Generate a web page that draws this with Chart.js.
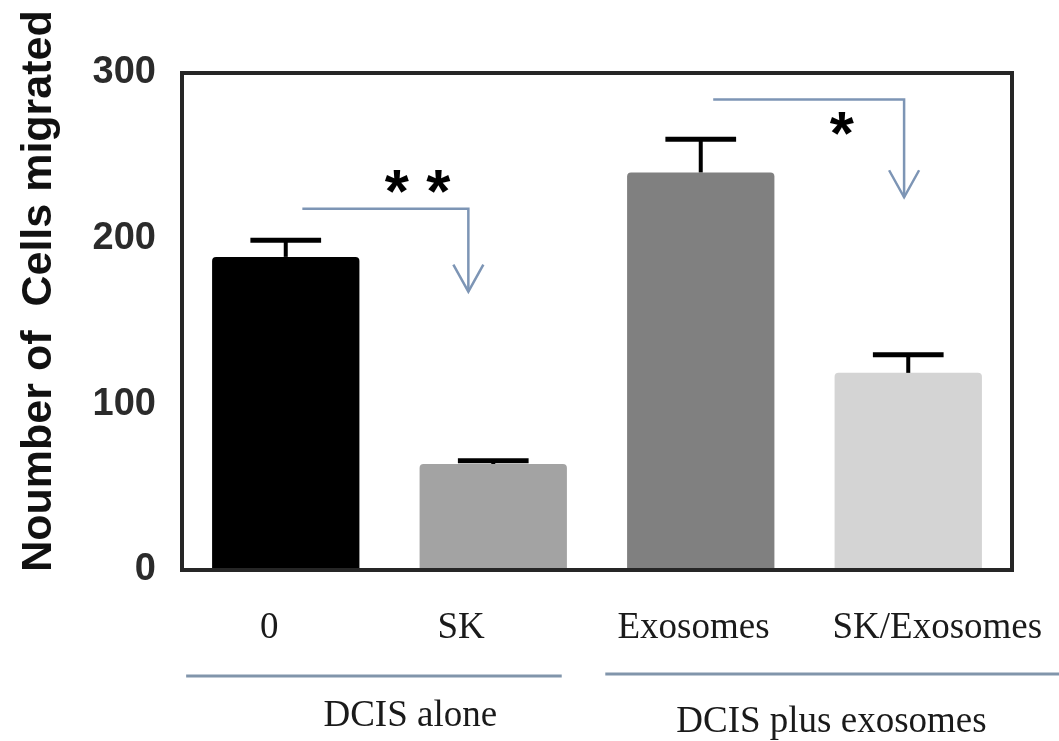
<!DOCTYPE html>
<html>
<head>
<meta charset="utf-8">
<script src="https://cdn.jsdelivr.net/npm/chart.js@4.4.0/dist/chart.umd.min.js"></script>
<style>
  html, body { margin: 0; padding: 0; background: #fff; }
  #wrap { width: 1059px; height: 741px; }
</style>
</head>
<body>
<div id="wrap"><canvas id="migChart" width="1059" height="741"></canvas></div>
<script>
// chart data
const categories = ['0', 'SK', 'Exosomes', 'SK/Exosomes'];
const cellsMigrated = [189, 64, 240, 119];
const errUpper = [10, 2, 20, 11];
const barColors = ['#000000', '#a3a3a3', '#808080', '#d4d4d4'];
const yTickValues = [0, 100, 200, 300];
const groupLabels = ['DCIS alone', 'DCIS plus exosomes'];
const yTitle = 'Noumber of  Cells migrated';

// category labels are not quite centred under the bars in the original
const labelShift = [-0.08, -0.155, -0.035, 0.14];

// significance brackets, in category / value units
const sigFrom = [0.08, 2.06];
const sigTo = [0.88, 2.98];
const sigLevel = [218, 284];
const sigArrowEnd = [168, 225];
const sigStars = ['* *', '*'];
const sigStarX = [0.635, 2.68];
const sigStarY = [234, 269];

const lineBlue = '#7d95b5';

const extrasPlugin = {
    id: 'extras',
    afterDatasetsDraw(chart) {
        const ctx = chart.ctx;
        const xs = chart.scales.x;
        const ys = chart.scales.y;
        const meta = chart.getDatasetMeta(0);

        // error bars (upper only)
        ctx.save();
        ctx.strokeStyle = '#000';
        meta.data.forEach((bar, i) => {
            const top = ys.getPixelForValue(cellsMigrated[i] + errUpper[i]);
            const base = ys.getPixelForValue(cellsMigrated[i]);
            const half = bar.width * 0.24;
            ctx.lineWidth = 4;
            ctx.beginPath();
            ctx.moveTo(bar.x, base);
            ctx.lineTo(bar.x, top);
            ctx.stroke();
            ctx.lineWidth = 5;
            ctx.beginPath();
            ctx.moveTo(bar.x - half, top);
            ctx.lineTo(bar.x + half, top);
            ctx.stroke();
        });
        ctx.restore();

        // significance brackets with arrows
        ctx.save();
        ctx.strokeStyle = lineBlue;
        ctx.lineWidth = 2.5;
        for (let i = 0; i < sigFrom.length; i++) {
            const x0 = xs.getPixelForValue(sigFrom[i]);
            const x1 = xs.getPixelForValue(sigTo[i]);
            const y0 = ys.getPixelForValue(sigLevel[i]);
            const y1 = ys.getPixelForValue(sigArrowEnd[i]);
            ctx.beginPath();
            ctx.moveTo(x0, y0);
            ctx.lineTo(x1, y0);
            ctx.lineTo(x1, y1);
            ctx.stroke();
            ctx.beginPath();
            ctx.moveTo(x1 - 15, y1 - 27);
            ctx.lineTo(x1, y1);
            ctx.lineTo(x1 + 15, y1 - 27);
            ctx.stroke();

            ctx.fillStyle = '#000';
            ctx.font = 'bold 62px "Liberation Sans", Arial, sans-serif';
            ctx.textAlign = 'center';
            ctx.textBaseline = 'middle';
            ctx.fillText(sigStars[i], xs.getPixelForValue(sigStarX[i]), ys.getPixelForValue(sigStarY[i]) + 13);
        }
        ctx.restore();
    },
    afterDraw(chart) {
        const ctx = chart.ctx;
        const area = chart.chartArea;
        const xs = chart.scales.x;

        // frame
        ctx.save();
        ctx.strokeStyle = '#262626';
        ctx.lineWidth = 4;
        ctx.strokeRect(area.left, area.top, area.right - area.left, area.bottom - area.top);
        ctx.restore();

        // category labels
        ctx.save();
        ctx.fillStyle = '#1a1a1a';
        ctx.font = '37px "Liberation Serif", "Times New Roman", serif';
        ctx.textAlign = 'center';
        ctx.textBaseline = 'alphabetic';
        categories.forEach((lab, i) => {
            ctx.fillText(lab, xs.getPixelForValue(i + labelShift[i]), area.bottom + 68);
        });
        ctx.restore();

        // group underlines and labels
        ctx.save();
        ctx.strokeStyle = '#8195ab';
        ctx.lineWidth = 3;
        const lineY = 676;
        ctx.beginPath();
        ctx.moveTo(xs.getPixelForValue(-0.48), lineY);
        ctx.lineTo(xs.getPixelForValue(1.33), lineY);
        ctx.moveTo(xs.getPixelForValue(1.54), lineY - 2);
        ctx.lineTo(chart.width, lineY - 2);
        ctx.stroke();
        ctx.fillStyle = '#1a1a1a';
        ctx.font = '37px "Liberation Serif", "Times New Roman", serif';
        ctx.textAlign = 'center';
        ctx.textBaseline = 'alphabetic';
        ctx.fillText(groupLabels[0], xs.getPixelForValue(0.6), 726);
        ctx.fillText(groupLabels[1], xs.getPixelForValue(2.63), 732);
        ctx.restore();

        // rotated y-axis title
        ctx.save();
        ctx.translate(51, 291);
        ctx.rotate(-Math.PI / 2);
        ctx.fillStyle = '#111';
        ctx.font = 'bold 43px "Liberation Sans", Arial, sans-serif';
        ctx.textAlign = 'center';
        ctx.textBaseline = 'alphabetic';
        ctx.fillText(yTitle, 0, 0);
        ctx.restore();
    }
};

const ctx = document.getElementById('migChart').getContext('2d');
new Chart(ctx, {
    type: 'bar',
    data: {
        labels: categories,
        datasets: [{
            data: cellsMigrated,
            backgroundColor: barColors,
            borderWidth: 0,
            borderRadius: { topLeft: 4, topRight: 4, bottomLeft: 0, bottomRight: 0 },
            borderSkipped: false,
            barPercentage: 0.71,
            categoryPercentage: 1.0
        }]
    },
    options: {
        responsive: false,
        animation: false,
        layout: { padding: { left: 0, top: 73, right: 47, bottom: 0 } },
        plugins: {
            legend: { display: false },
            tooltip: { enabled: false }
        },
        scales: {
            x: {
                grid: { display: false, drawTicks: false },
                border: { display: false },
                ticks: { display: false },
                afterFit(scale) { scale.height = 171; }
            },
            y: {
                min: 0,
                max: 300,
                grid: { display: false, drawTicks: false },
                border: { display: false },
                afterBuildTicks(scale) {
                    scale.ticks = yTickValues.map(v => ({ value: v }));
                },
                ticks: {
                    color: '#2b2b2b',
                    padding: 26,
                    font: { family: '"Liberation Sans", Arial, sans-serif', size: 38, weight: 'bold' }
                },
                afterFit(scale) { scale.width = 182; }
            }
        }
    },
    plugins: [extrasPlugin]
});
</script>
</body>
</html>
